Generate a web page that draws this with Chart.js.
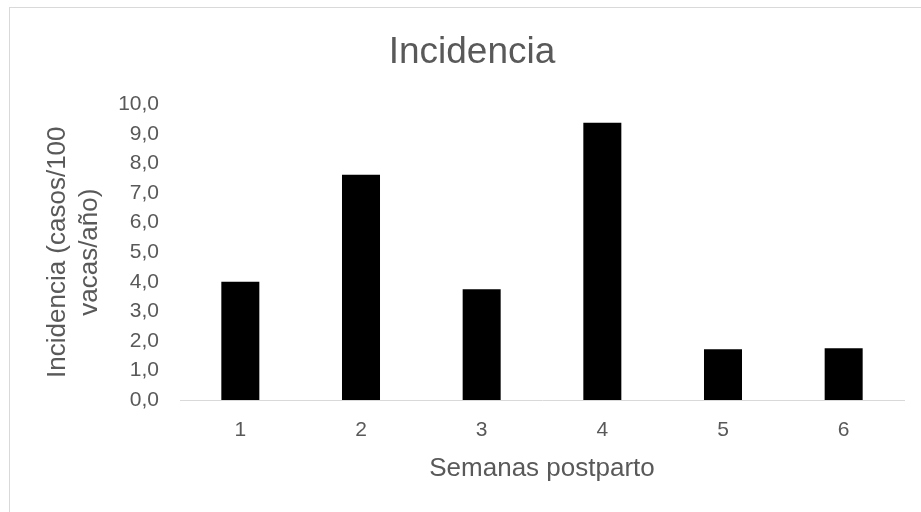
<!DOCTYPE html>
<html>
<head>
<meta charset="utf-8">
<script src="https://cdn.jsdelivr.net/npm/chart.js@4/dist/chart.umd.min.js"></script>
<style>
  html, body { margin: 0; padding: 0; background: #ffffff; overflow: hidden; }
  #wrap { width: 921px; height: 512px; position: relative; }
</style>
</head>
<body>
<div id="wrap"><canvas id="chart" width="921" height="512"></canvas></div>
<script>
// Weeks after calving and incidence per week (cases per 100 cows/year)
const weeks = ['1', '2', '3', '4', '5', '6'];
const incidence = [4.0, 7.62, 3.75, 9.38, 1.72, 1.75];
const yMin = 0;
const yMax = 10;
const yStep = 1;

const textColor = '#595959';
const lineColor = '#d9d9d9';
const family = '"Liberation Sans", Arial, sans-serif';

// Thin frame around the whole chart
const framePlugin = {
  id: 'frame',
  beforeDraw(chart) {
    const ctx = chart.ctx;
    ctx.save();
    ctx.fillStyle = '#ffffff';
    ctx.fillRect(0, 0, chart.width, chart.height);
    ctx.strokeStyle = lineColor;
    ctx.lineWidth = 1;
    ctx.strokeRect(9.5, 7.5, chart.width + 20, chart.height + 20);
    ctx.restore();
  }
};

new Chart(document.getElementById('chart'), {
  type: 'bar',
  data: {
    labels: weeks,
    datasets: [{
      data: incidence,
      backgroundColor: '#000000',
      borderWidth: 0,
      categoryPercentage: 1,
      barPercentage: 0.315
    }]
  },
  options: {
    responsive: false,
    animation: false,
    devicePixelRatio: 1,
    layout: { padding: { left: 40, right: 17, top: 0, bottom: 0 } },
    plugins: {
      legend: { display: false },
      tooltip: { enabled: false },
      title: {
        display: true,
        text: 'Incidencia',
        color: textColor,
        font: { family: family, size: 37, weight: 'normal', lineHeight: 1.2 },
        padding: { top: 31, bottom: 29 }
      }
    },
    scales: {
      x: {
        grid: { display: false, drawTicks: false },
        border: { display: true, color: lineColor, width: 1 },
        ticks: {
          color: textColor,
          font: { family: family, size: 21 },
          padding: 18
        },
        title: {
          display: true,
          text: 'Semanas postparto',
          color: textColor,
          font: { family: family, size: 26, lineHeight: 1.2 },
          padding: { top: 0, bottom: 28 }
        },
        afterFit(scale) { scale.height = 112; }
      },
      y: {
        min: yMin,
        max: yMax,
        grid: { display: false, drawTicks: false },
        border: { display: false },
        ticks: {
          stepSize: yStep,
          color: textColor,
          font: { family: family, size: 21 },
          padding: 21,
          callback: (v) => v.toFixed(1).replace('.', ',')
        },
        title: {
          display: true,
          text: ['Incidencia (casos/100', 'vacas/año)'],
          color: textColor,
          font: { family: family, size: 26, lineHeight: '32px' },
          padding: { top: 2, bottom: 0 }
        },
        afterFit(scale) { scale.width = 140; }
      }
    }
  },
  plugins: [framePlugin]
});
</script>
</body>
</html>
